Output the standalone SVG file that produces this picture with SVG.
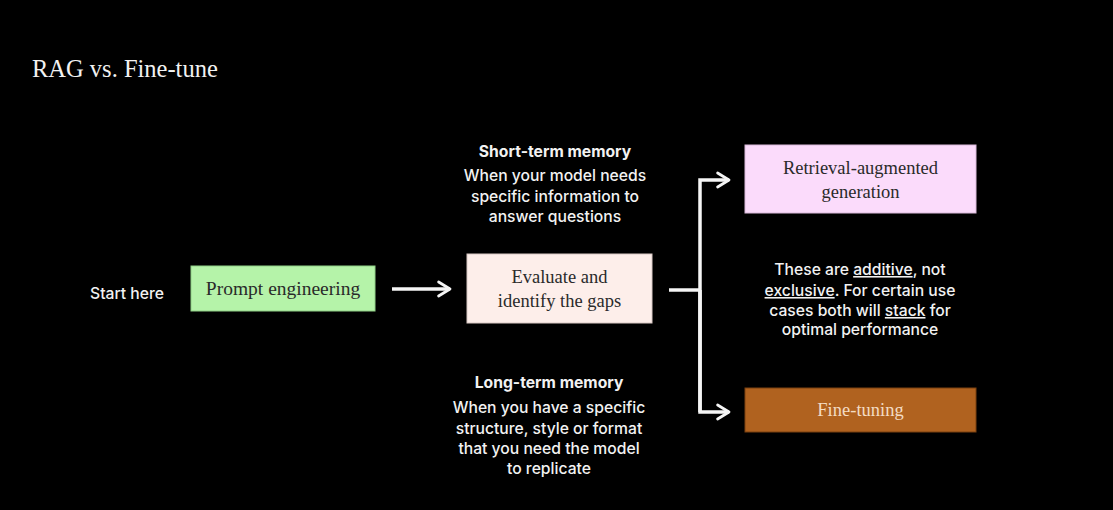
<svg xmlns="http://www.w3.org/2000/svg" width="1113" height="510" viewBox="0 0 1113 510">
<defs>
<style>
.serif{font-family:"Liberation Serif","DejaVu Serif",serif;}
.sans{font-family:"Inter","Liberation Sans",sans-serif;fill:#f2f2f2;font-size:15.7px;text-anchor:middle;font-weight:500;}
.bold{font-weight:700;}
.lbl{font-size:18.5px;text-anchor:middle;fill:#2a2a2a;}
.conn{stroke:#f5f5f5;stroke-width:3.5;fill:none;}
.u{text-decoration:underline;}
</style>
<marker id="ah" viewBox="0 0 10 10" refX="8" refY="5" markerWidth="5" markerHeight="5" orient="auto" markerUnits="strokeWidth">
<path d="M1.5,1 L8,5 L1.5,9" fill="none" stroke="#f5f5f5" stroke-width="1.6" stroke-linecap="round" stroke-linejoin="round"/>
</marker>
</defs>
<rect width="1113" height="510" fill="#000"/>
<text class="serif" x="32" y="77" font-size="24.5" fill="#f2f2f2">RAG vs. Fine-tune</text>

<g id="start"><text class="sans" x="127" y="299">Start here</text></g>

<g id="prompt">
<rect x="191" y="266" width="184" height="45" fill="#b5f3a9" stroke="#8fcf86" stroke-width="1"/>
<text class="serif lbl" x="283" y="295" style="font-size:19.5px">Prompt engineering</text>
</g>

<g id="evaluate">
<rect x="467" y="254" width="185" height="69" fill="#fdeeea" stroke="#d8c8c4" stroke-width="1"/>
<text class="serif lbl" x="559.5" y="283">Evaluate and</text>
<text class="serif lbl" x="559.5" y="307">identify the gaps</text>
</g>

<g id="rag">
<rect x="745" y="145" width="231" height="68" fill="#fbdbfb" stroke="#d9b9d9" stroke-width="1"/>
<text class="serif lbl" x="860.5" y="174">Retrieval-augmented</text>
<text class="serif lbl" x="860.5" y="198">generation</text>
</g>

<g id="finetune">
<rect x="745" y="388" width="231" height="44" fill="#b0621f" stroke="#7a4010" stroke-width="1"/>
<text class="serif lbl" x="860.5" y="416" style="fill:#f3dcc4">Fine-tuning</text>
</g>

<g id="short-term">
<text class="sans bold" x="555" y="157">Short-term memory</text>
<text class="sans" x="555" y="181">When your model needs</text>
<text class="sans" x="555" y="202">specific information to</text>
<text class="sans" x="555" y="222">answer questions</text>
</g>

<g id="long-term">
<text class="sans bold" x="549" y="388">Long-term memory</text>
<text class="sans" x="549" y="413">When you have a specific</text>
<text class="sans" x="549" y="434">structure, style or format</text>
<text class="sans" x="549" y="454">that you need the model</text>
<text class="sans" x="549" y="474">to replicate</text>
</g>

<g id="note">
<text class="sans" x="860" y="275">These are <tspan class="u">additive</tspan>, not</text>
<text class="sans" x="860" y="296"><tspan class="u">exclusive</tspan>. For certain use</text>
<text class="sans" x="860" y="316">cases both will <tspan class="u">stack</tspan> for</text>
<text class="sans" x="860" y="335">optimal performance</text>
</g>

<g id="connectors">
<line class="conn" x1="392" y1="289" x2="450" y2="289" marker-end="url(#ah)"/>
<line class="conn" x1="669" y1="290" x2="700" y2="290"/>
<path class="conn" d="M700,412 L700,180 L729,180" marker-end="url(#ah)"/>
<path class="conn" d="M700,290 L700,412 L729,412" marker-end="url(#ah)"/>
</g>
</svg>
